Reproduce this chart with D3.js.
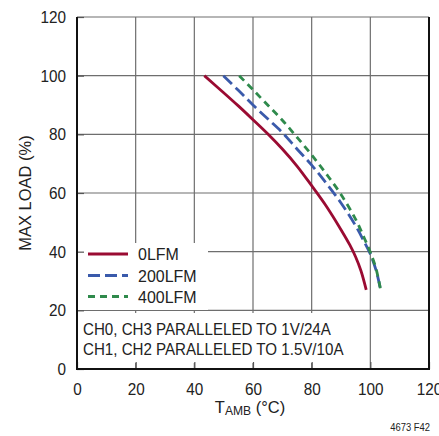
<!DOCTYPE html>
<html>
<head>
<meta charset="utf-8">
<script src="https://cdn.jsdelivr.net/npm/d3@7"></script>
<style>
  html, body { margin: 0; padding: 0; background: #fff; }
  svg { display: block; }
  text { font-family: "Liberation Sans", Arial, sans-serif; fill: #222; }
</style>
</head>
<body>
<svg id="chart" width="439" height="436"></svg>
<script>
// Ambient temperature (°C) and maximum load (%) for each airflow
const temp0 = [43.4, 50, 55, 60, 65, 70, 75, 80, 85, 90, 93, 95, 96.8, 98.6];
const load0 = [100, 94.2, 89.7, 85, 80.2, 75, 69.2, 62.5, 55.5, 47.5, 42.3, 38.2, 33.5, 27];

const temp200 = [49.9, 55, 60, 65, 70, 75, 80, 85, 90, 95, 98, 100, 102, 103.5];
const load200 = [100, 95, 90, 85.3, 80.6, 75, 69.5, 63.3, 56.6, 48.8, 43.2, 39.2, 33.5, 27];

const temp400 = [55.3, 60, 65, 70, 75, 80, 85, 90, 95, 98, 100, 102, 103.5];
const load400 = [100, 95.2, 90, 84.8, 79, 73, 66.5, 59.5, 51, 44.5, 39.8, 34, 27];

const seriesNames = ["0LFM", "200LFM", "400LFM"];
const seriesColors = ["#9a0b32", "#3a5aab", "#2f8a4c"];
const seriesDash = [null, "12,5", "7,5"];

const xTicks = [0, 20, 40, 60, 80, 100, 120];
const yTicks = [0, 20, 40, 60, 80, 100, 120];

const noteLines = ["CH0, CH3 PARALLELED TO 1V/24A", "CH1, CH2 PARALLELED TO 1.5V/10A"];

const svg = d3.select("#chart");
const plotL = 77, plotR = 429, plotT = 17, plotB = 369;

const x = d3.scaleLinear().domain([0, 120]).range([plotL, plotR]);
const y = d3.scaleLinear().domain([0, 120]).range([plotB, plotT]);

// condensed text: horizontal squeeze applied about the anchor point
function label(px, py, str, size, squeeze, anchor = "start", rot = 0) {
  return svg.append("text")
    .attr("transform", `translate(${px},${py}) rotate(${rot}) scale(${squeeze},1)`)
    .attr("text-anchor", anchor)
    .attr("font-size", size)
    .text(str);
}

// grid
const grid = svg.append("g");
grid.selectAll("line.v").data(xTicks.slice(1, -1)).join("line")
  .attr("x1", d => x(d)).attr("x2", d => x(d))
  .attr("y1", plotT).attr("y2", plotB)
  .attr("stroke", "#6e6e6e").attr("stroke-width", 1.2);
grid.selectAll("line.h").data(yTicks.slice(1)).join("line")
  .attr("y1", d => y(d)).attr("y2", d => y(d))
  .attr("x1", plotL).attr("x2", plotR)
  .attr("stroke", "#6e6e6e").attr("stroke-width", 1.2);

// white panels behind legend and note
svg.append("rect").attr("x", plotL + 1).attr("y", 243).attr("width", 130).attr("height", 67).attr("fill", "#fff");
svg.append("rect").attr("x", plotL + 1).attr("y", 313).attr("width", 270).attr("height", 50).attr("fill", "#fff");

// inward ticks on axes
const xAxis = d3.axisBottom(x).tickValues(xTicks).tickSizeInner(-7).tickSizeOuter(0).tickPadding(14);
const yAxis = d3.axisLeft(y).tickValues(yTicks).tickSizeInner(-7).tickSizeOuter(0).tickPadding(11);

const gx = svg.append("g").attr("transform", `translate(0,${plotB})`).call(xAxis);
const gy = svg.append("g").attr("transform", `translate(${plotL},0)`).call(yAxis);
[gx, gy].forEach(g => {
  g.select(".domain").remove();
  g.selectAll(".tick line").attr("stroke", "#555").attr("stroke-width", 1.2);
  g.selectAll(".tick text").attr("font-size", 17).attr("fill", "#222")
    .style("font-family", '"Liberation Sans", Arial, sans-serif');
});
gx.selectAll(".tick text").attr("transform", "scale(0.9,1)");
gy.selectAll(".tick text").attr("x", 0).attr("transform", "translate(-11,0) scale(0.9,1)");

// frame: left, bottom, right in black
svg.append("path")
  .attr("d", `M${plotL},${plotT}V${plotB}H${plotR}V${plotT}`)
  .attr("fill", "none").attr("stroke", "#111").attr("stroke-width", 2);

// curves
const line = d3.line().x(d => x(d[0])).y(d => y(d[1])).curve(d3.curveCatmullRom.alpha(0.5));
const data = [
  d3.zip(temp0, load0),
  d3.zip(temp200, load200),
  d3.zip(temp400, load400)
];
data.forEach((pts, i) => {
  svg.append("path").datum(pts)
    .attr("d", line)
    .attr("fill", "none")
    .attr("stroke", seriesColors[i])
    .attr("stroke-width", 2.8)
    .attr("stroke-dasharray", seriesDash[i]);
});

// legend
const legY = [260, 281.5, 302.5];
seriesNames.forEach((name, i) => {
  svg.append("line")
    .attr("x1", 88).attr("x2", 128)
    .attr("y1", legY[i] - 6).attr("y2", legY[i] - 6)
    .attr("stroke", seriesColors[i]).attr("stroke-width", 2.8)
    .attr("stroke-dasharray", seriesDash[i]);
  label(138, legY[i], name, 17, 0.94);
});

// note
noteLines.forEach((t, i) => label(83, 335 + i * 20, t, 17, 0.89));

// axis titles
label(31, (plotT + plotB) / 2, "MAX LOAD (%)", 17, 0.97, "middle", -90);

const xt = svg.append("text")
  .attr("transform", "translate(250,413) scale(0.97,1)")
  .attr("text-anchor", "middle").attr("font-size", 17);
xt.append("tspan").text("T");
xt.append("tspan").attr("font-size", 12.5).attr("dy", 2).text("AMB");
xt.append("tspan").attr("dy", -2).text(" (°C)");

label(430, 431, "4673 F42", 11.5, 0.82, "end");
</script>
</body>
</html>
